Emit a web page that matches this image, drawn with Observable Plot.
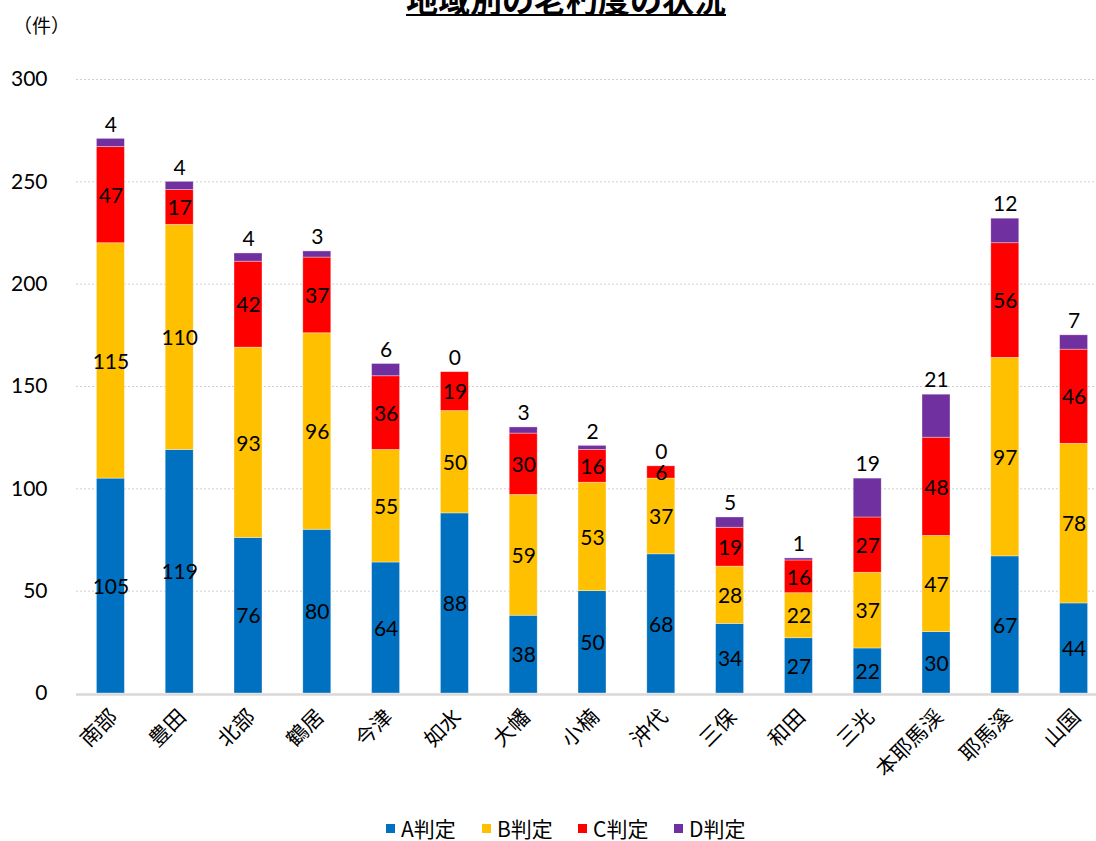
<!DOCTYPE html>
<html>
<head>
<meta charset="utf-8">
<script src="https://cdn.jsdelivr.net/npm/d3@7"></script>
<script src="https://cdn.jsdelivr.net/npm/@observablehq/plot@0.6"></script>
<style>
  html, body { margin: 0; padding: 0; background: #fff; overflow: hidden; width: 1096px; height: 841px; }
  #wrap { position: relative; width: 1096px; height: 841px; overflow: hidden; }
  #chart { position: absolute; left: 0; top: 0; width: 1108px; }
  #chart svg { max-width: none !important; }
  #title { position: absolute; left: 406px; top: -18px; font-family: "Noto Sans CJK JP", sans-serif; font-weight: bold; font-size: 32px; line-height: 32px; white-space: nowrap; text-decoration: underline; text-decoration-thickness: 2px; text-underline-offset: 2px; color: #000; }
  #unit { position: absolute; left: 13px; top: 12px; font-family: "Noto Sans CJK JP", sans-serif; font-size: 19px; line-height: 26px; color: #000; white-space: nowrap; }
  #legend { position: absolute; left: 386px; top: 813px; display: flex; font-family: "Noto Sans CJK JP", sans-serif; font-size: 21px; line-height: 30px; color: #000; }
  .item { width: 96px; display: flex; align-items: center; white-space: nowrap; }
  .sw { width: 9px; height: 9px; margin-right: 6px; flex: none; }
</style>
</head>
<body>
<div id="wrap">
  <div id="chart"></div>
  <div id="title">地域別の老朽度の状況</div>
  <div id="unit">（件）</div>
  <div id="legend"></div>
</div>
<script>
const regions = ["南部","豊田","北部","鶴居","今津","如水","大幡","小楠","沖代","三保","和田","三光","本耶馬渓","耶馬溪","山国"];
const judgeA = [105,119,76,80,64,88,38,50,68,34,27,22,30,67,44];
const judgeB = [115,110,93,96,55,50,59,53,37,28,22,37,47,97,78];
const judgeC = [47,17,42,37,36,19,30,16,6,19,16,27,48,56,46];
const judgeD = [4,4,4,3,6,0,3,2,0,5,1,19,21,12,7];
const seriesNames = ["A判定","B判定","C判定","D判定"];
const seriesColors = ["#0070C0","#FFC000","#FF0000","#7030A0"];
const yTicks = [0,50,100,150,200,250,300];

const seriesValues = [judgeA, judgeB, judgeC, judgeD];
const rows = [];
regions.forEach((r, i) => {
  seriesNames.forEach((s, k) => rows.push({region: r, series: s, value: seriesValues[k][i]}));
});
const innerRows = rows.filter(d => d.series !== "D判定");
const totals = regions.map((r, i) => ({region: r, total: judgeA[i] + judgeB[i] + judgeC[i] + judgeD[i], d: judgeD[i]}));

const chart = Plot.plot({
  width: 1108,
  height: 841,
  marginTop: 79,
  marginBottom: 148,
  marginLeft: 76,
  marginRight: 0,
  style: {fontFamily: "Lato, 'Noto Sans CJK JP', sans-serif", fontSize: "20px", color: "#000", background: "transparent", overflow: "visible", maxWidth: "none"},
  x: {domain: regions, paddingInner: 0.593, paddingOuter: 0.2965, round: false},
  y: {domain: [0, 300]},
  color: {domain: seriesNames, range: seriesColors},
  marks: [
    Plot.ruleY(yTicks.filter(d => d > 0), {stroke: "#d0d0d0", strokeDasharray: "2,2", strokeWidth: 1}),
    Plot.barY(rows, Plot.stackY({x: "region", y: "value", fill: "series", stroke: "#ffffff", strokeOpacity: 0.5, strokeWidth: 0.7})),
    Plot.ruleY([0], {stroke: "#d9d9d9", strokeWidth: 2.5, dy: 1}),
    Plot.text(innerRows, Plot.stackY({x: "region", y: "value", text: d => String(d.value), fill: "#000", fontSize: 21, dy: 1})),
    Plot.text(totals, {x: "region", y: "total", text: d => String(d.d), fill: "#000", fontSize: 21, dy: -14}),
    Plot.axisY(yTicks, {tickSize: 0, tickPadding: 29, fontSize: 21, label: null}),
    Plot.axisX({tickSize: 0, tickRotate: -45, tickPadding: 20, fontSize: 21, label: null, dx: 3})
  ]
});
document.getElementById("chart").appendChild(chart);

const legend = document.getElementById("legend");
seriesNames.forEach((s, k) => {
  const it = document.createElement("div");
  it.className = "item";
  const sw = document.createElement("span");
  sw.className = "sw";
  sw.style.background = seriesColors[k];
  const tx = document.createElement("span");
  tx.textContent = s;
  it.appendChild(sw);
  it.appendChild(tx);
  legend.appendChild(it);
});
</script>
</body>
</html>
